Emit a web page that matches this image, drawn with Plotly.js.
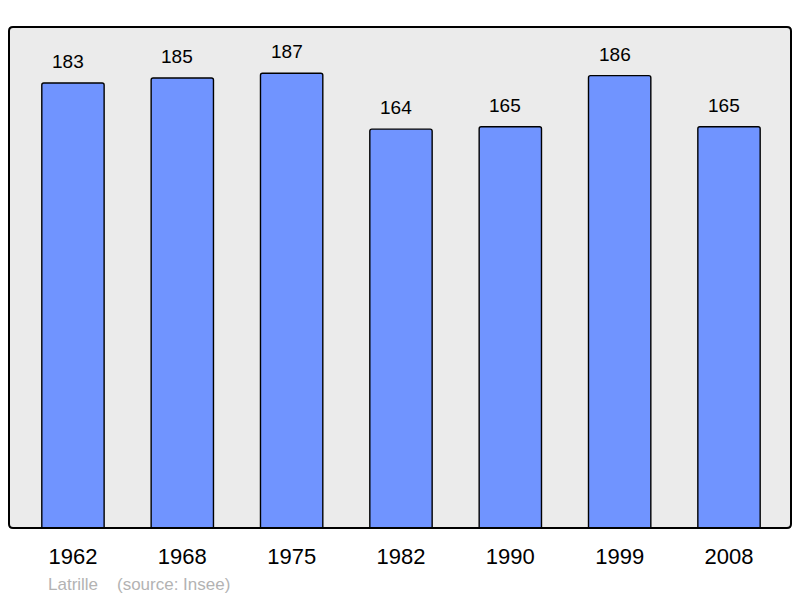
<!DOCTYPE html>
<html>
<head>
<meta charset="utf-8">
<script src="https://cdn.plot.ly/plotly-3.0.1.min.js"></script>
<style>html,body{margin:0;padding:0;background:#fff;}#chart{width:800px;height:598px;}</style>
</head>
<body>
<div id="chart"></div>
<script>
const years = ["1962", "1968", "1975", "1982", "1990", "1999", "2008"];
const population = [183, 185, 187, 164, 165, 186, 165];
const commune = "Latrille";
const source = "(source: Insee)";

function roundedRect(rx, ry) {
  return `M ${rx},0 L ${1-rx},0 Q 1,0 1,${ry} L 1,${1-ry} Q 1,1 ${1-rx},1 L ${rx},1 Q 0,1 0,${1-ry} L 0,${ry} Q 0,0 ${rx},0 Z`;
}
const rx = 4/782, ry = 4/501;

const trace = {
  type: 'bar',
  x: years,
  y: population,
  width: 0.57,
  marker: {color: '#7094ff', line: {color: '#000', width: 1.4}, cornerradius: 2},
  hoverinfo: 'none'
};

const annotations = years.map((yr, i) => ({
  x: i, y: population[i], xref: 'x', yref: 'y',
  text: String(population[i]), showarrow: false,
  yanchor: 'bottom', yshift: 9, xshift: -5,
  font: {family: 'Liberation Sans, Arial, sans-serif', size: 19, color: '#000'}
}));
annotations.push({
  xref: 'paper', yref: 'paper', x: 37/782, y: -56/501,
  xanchor: 'left', yanchor: 'middle', showarrow: false,
  text: commune + '\u00a0\u00a0\u00a0\u00a0' + source,
  font: {family: 'Liberation Sans, Arial, sans-serif', size: 17, color: '#b3b3b3'}
});

const layout = {
  width: 800, height: 598,
  margin: {l: 9, r: 9, t: 27, b: 70, pad: 0},
  paper_bgcolor: '#fff',
  plot_bgcolor: 'rgba(0,0,0,0)',
  showlegend: false,
  xaxis: {
    type: 'category', range: [-0.585, 6.567],
    showgrid: false, zeroline: false, showline: false, ticks: '',
    ticklabelstandoff: 13,
    tickfont: {family: 'Liberation Sans, Arial, sans-serif', size: 22, color: '#000'},
    fixedrange: true
  },
  yaxis: {
    range: [0, 206], showgrid: false, zeroline: false, showline: false,
    showticklabels: false, ticks: '', fixedrange: true
  },
  shapes: [
    {type: 'path', xref: 'paper', yref: 'paper', path: roundedRect(rx, ry),
     fillcolor: '#ebebeb', line: {width: 0}, layer: 'below'},
    {type: 'path', xref: 'paper', yref: 'paper', path: roundedRect(rx, ry),
     fillcolor: 'rgba(0,0,0,0)', line: {color: '#000', width: 2}, layer: 'above'}
  ],
  annotations: annotations
};

Plotly.newPlot('chart', [trace], layout, {staticPlot: true, displayModeBar: false});
</script>
</body>
</html>
